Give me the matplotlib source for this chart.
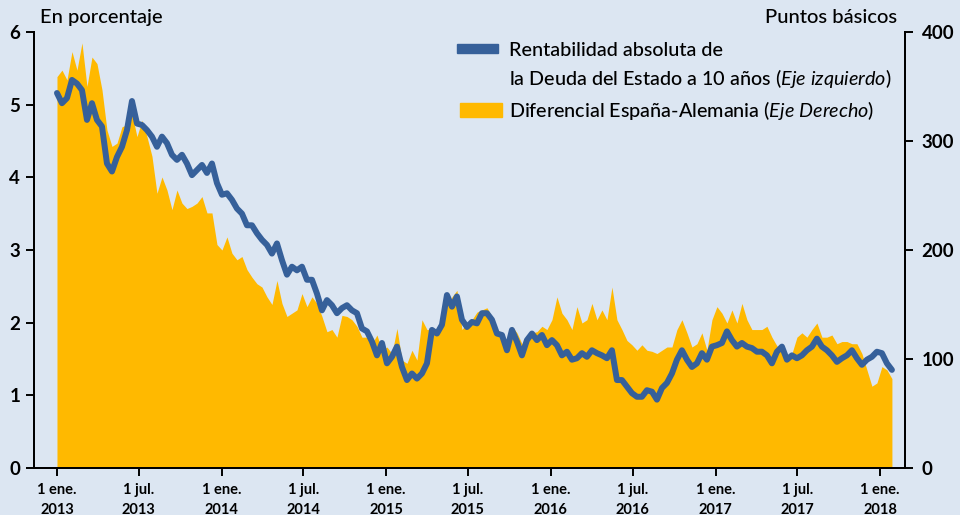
import pandas as pd
import matplotlib
matplotlib.use("Agg")
from matplotlib import pyplot as plt
from matplotlib.patches import Rectangle

plt.rcParams['font.family'] = ['Lato', 'DejaVu Sans']
plt.rcParams['mathtext.fontset'] = 'custom'
plt.rcParams['mathtext.rm'] = 'Lato'
plt.rcParams['mathtext.it'] = 'Lato:italic'

# Rentabilidad del bono a 10 años (%), eje izquierdo
rentabilidad = [
    5.16, 5.02, 5.09, 5.34, 5.29, 5.20, 4.79, 5.02, 4.79, 4.70,
    4.19, 4.08, 4.28, 4.42, 4.65, 5.05, 4.74, 4.72, 4.65, 4.56,
    4.42, 4.56, 4.47, 4.31, 4.24, 4.31, 4.19, 4.03, 4.10, 4.17,
    4.06, 4.19, 3.92, 3.76, 3.78, 3.69, 3.57, 3.50, 3.34, 3.34,
    3.23, 3.14, 3.07, 2.95, 3.09, 2.86, 2.66, 2.77, 2.72, 2.77,
    2.59, 2.59, 2.40, 2.17, 2.31, 2.24, 2.13, 2.20, 2.24, 2.17,
    2.13, 1.92, 1.88, 1.74, 1.55, 1.72, 1.44, 1.53, 1.67, 1.39,
    1.21, 1.30, 1.23, 1.30, 1.44, 1.90, 1.85, 1.97, 2.38, 2.22,
    2.36, 2.04, 1.94, 2.01, 1.99, 2.13, 2.13, 2.04, 1.85, 1.83,
    1.62, 1.90, 1.74, 1.55, 1.76, 1.85, 1.76, 1.83, 1.69, 1.76,
    1.69, 1.55, 1.60, 1.49, 1.51, 1.58, 1.53, 1.62, 1.58, 1.55,
    1.51, 1.62, 1.21, 1.21, 1.12, 1.03, 0.98, 0.98, 1.07, 1.05,
    0.94, 1.10, 1.17, 1.30, 1.49, 1.62, 1.49, 1.39, 1.44, 1.58,
    1.49, 1.67, 1.69, 1.72, 1.88, 1.76, 1.67, 1.72, 1.67, 1.65,
    1.60, 1.60, 1.55, 1.44, 1.60, 1.67, 1.49, 1.55, 1.51, 1.55,
    1.62, 1.67, 1.78, 1.67, 1.62, 1.55, 1.46, 1.51, 1.55, 1.62,
    1.51, 1.42, 1.49, 1.53, 1.60, 1.58, 1.44, 1.35,
]

# Diferencial España-Alemania (puntos básicos), eje derecho
diferencial = [
    359, 365, 356, 382, 365, 390, 350, 377, 371, 347,
    310, 295, 298, 313, 315, 325, 304, 319, 304, 286,
    252, 267, 255, 237, 255, 243, 238, 240, 243, 249,
    234, 234, 205, 200, 212, 197, 191, 194, 182, 175,
    169, 166, 157, 150, 172, 151, 139, 142, 145, 160,
    148, 157, 151, 139, 125, 127, 120, 140, 139, 136,
    130, 120, 120, 114, 122, 108, 111, 105, 128, 99,
    96, 108, 99, 136, 127, 127, 127, 136, 148, 157,
    163, 127, 133, 136, 143, 145, 147, 139, 127, 124,
    111, 130, 124, 114, 120, 124, 125, 130, 127, 136,
    157, 142, 136, 127, 148, 133, 136, 151, 136, 145,
    136, 166, 136, 127, 117, 113, 108, 113, 108, 107,
    105, 108, 111, 111, 127, 136, 124, 111, 114, 124,
    108, 136, 148, 142, 133, 145, 133, 151, 136, 127,
    127, 127, 130, 120, 112, 108, 99, 105, 120, 124,
    120, 127, 133, 120, 120, 122, 114, 116, 116, 114,
    114, 105, 90, 75, 78, 93, 90, 82,
]

fechas_r = pd.date_range('2013-01-01', '2018-01-27', periods=len(rentabilidad))
fechas_d = pd.date_range('2013-01-01', '2018-01-27', periods=len(diferencial))

tick_fechas = pd.to_datetime(['2013-01-01', '2013-07-01', '2014-01-01', '2014-07-01',
                              '2015-01-01', '2015-07-01', '2016-01-01', '2016-07-01',
                              '2017-01-01', '2017-07-01', '2018-01-01'])
tick_textos = ['1 ene.\n2013', '1 jul.\n2013', '1 ene.\n2014', '1 jul.\n2014',
               '1 ene.\n2015', '1 jul.\n2015', '1 ene.\n2016', '1 jul.\n2016',
               '1 ene.\n2017', '1 jul.\n2017', '1 ene.\n2018']

fondo = '#dce6f2'
amarillo = '#ffb900'
azul = '#36609a'

fig = plt.figure(figsize=(9.6, 5.15), dpi=100, facecolor=fondo)
ax = fig.add_axes([0.0354, 0.0913, 0.9073, 0.8466])
ax2 = ax.twinx()

ax2.fill_between(fechas_d, diferencial, 0, color=amarillo, lw=0)
ax.plot(fechas_r, rentabilidad, color=azul, lw=4.3, solid_capstyle='round')

ax.set_zorder(ax2.get_zorder() + 1)
ax.patch.set_visible(False)
ax2.patch.set_visible(False)

ax.set_xlim(pd.Timestamp('2012-11-11'), pd.Timestamp('2018-02-25'))
ax.set_ylim(0, 6)
ax2.set_ylim(0, 400)
ax.set_yticks(range(0, 7))
ax2.set_yticks([0, 100, 200, 300, 400])
ax.set_xticks(tick_fechas)
ax.set_xticklabels(tick_textos, fontsize=10.5, fontweight='bold', linespacing=1.5)

for a in (ax, ax2):
    a.spines['top'].set_visible(False)
    for s in a.spines.values():
        s.set_linewidth(1.4)
ax.tick_params(axis='y', labelsize=13.5, width=1.4, length=6, pad=4)
ax2.tick_params(axis='y', labelsize=13.5, width=1.4, length=6, pad=6)
ax.tick_params(axis='x', width=1.4, length=6, pad=5)
for lab in ax.get_yticklabels() + ax2.get_yticklabels():
    lab.set_fontweight('bold')

fig.text(0.042, 0.966, 'En porcentaje', fontsize=14.5, fontweight='medium',
         ha='left', va='center')
fig.text(0.935, 0.966, 'Puntos básicos', fontsize=14.5, fontweight='medium',
         ha='right', va='center')

# leyenda
ax.add_patch(Rectangle((0.4765, 0.897), 0.0425, 0.018, transform=fig.transFigure,
                       color=azul, clip_on=False))
ax.add_patch(Rectangle((0.479, 0.773), 0.044, 0.027, transform=fig.transFigure,
                       color=amarillo, clip_on=False))
fig.text(0.530, 0.902, 'Rentabilidad absoluta de', fontsize=14.2,
         fontweight='medium', va='center')
fig.text(0.530, 0.848, r'la Deuda del Estado a 10 años ($\mathit{Eje\ izquierdo}$)',
         fontsize=14.2, fontweight='medium', va='center')
fig.text(0.530, 0.786, r'Diferencial España-Alemania ($\mathit{Eje\ Derecho}$)',
         fontsize=14.2, fontweight='medium', va='center')

fig.savefig('out.png', dpi=100, facecolor=fondo)
